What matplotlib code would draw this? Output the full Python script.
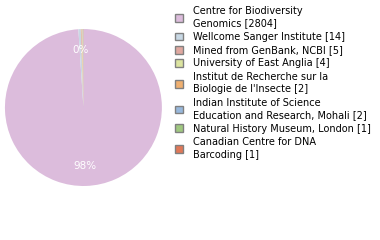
import matplotlib
matplotlib.use("Agg")
import numpy as np
import matplotlib.pyplot as plt
from matplotlib.patches import Patch

# data
labels = ["Centre for Biodiversity\nGenomics [2804]",
          "Wellcome Sanger Institute [14]",
          "Mined from GenBank, NCBI [5]",
          "University of East Anglia [4]",
          "Institut de Recherche sur la\nBiologie de l'Insecte [2]",
          "Indian Institute of Science\nEducation and Research, Mohali [2]",
          "Natural History Museum, London [1]",
          "Canadian Centre for DNA\nBarcoding [1]"]
counts = [2804, 14, 5, 4, 2, 2, 1, 1]
colors = ["#dcbcdc", "#c8d8e4", "#e0a8a0", "#dce4a0",
          "#f0b070", "#98b8dc", "#a0c880", "#e07858"]

total = sum(counts)

fig = plt.figure(figsize=(3.8, 2.4), dpi=100)
ax = fig.add_axes([0.013, 0.225, 0.413, 0.654])

wedges, _ = ax.pie(counts, colors=colors, startangle=90, counterclock=False,
                   radius=1, wedgeprops=dict(linewidth=0))
# percentage labels on the two largest slices
for w, c in list(zip(wedges, counts))[:2]:
    ang = np.deg2rad((w.theta1 + w.theta2) / 2)
    ax.text(0.74 * np.cos(ang), 0.74 * np.sin(ang), f"{int(100 * c / total)}%",
            ha="center", va="center", color="white", fontsize=7.5)
ax.set_xlim(-1, 1)
ax.set_ylim(-1, 1)
ax.set_aspect("equal")
ax.axis("off")

handles = [Patch(facecolor=c, edgecolor="#808080", linewidth=1) for c in colors]
leg = fig.legend(handles, labels, loc="upper left", bbox_to_anchor=(0.445, 1.0),
                 frameon=False, fontsize=7, handlelength=0.85, handleheight=0.85,
                 handletextpad=1.0, labelspacing=0.34, borderaxespad=0.2)
for t in leg.get_texts():
    t.set_linespacing(1.33)

fig.savefig("out.png", dpi=100)
